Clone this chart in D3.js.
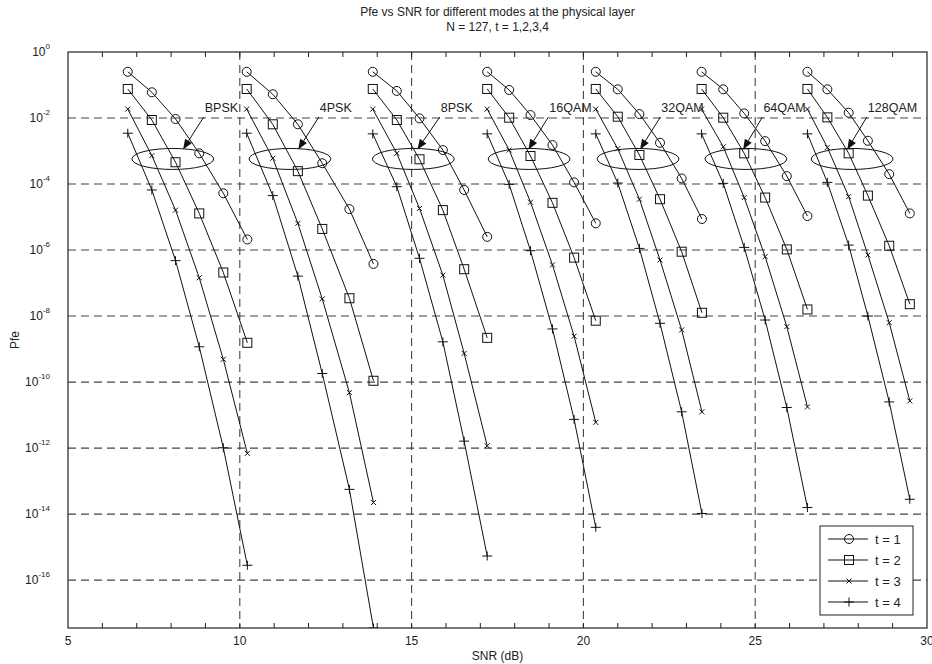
<!DOCTYPE html>
<html>
<head>
<meta charset="utf-8">
<script src="https://cdn.jsdelivr.net/npm/d3@7"></script>
<style>
  body { margin: 0; background: #fff; }
  svg text { font-family: "Liberation Sans", Arial, sans-serif; fill: #222; }
</style>
</head>
<body>
<svg id="chart" width="932" height="664"></svg>
<script>
// modes shown, left to right
var modes = ["BPSK", "4PSK", "8PSK", "16QAM", "32QAM", "64QAM", "128QAM"];

// SNR (dB) of the six points of each mode
var snrBPSK   = [6.74, 7.44, 8.13, 8.82, 9.52, 10.22];
var snr4PSK   = [10.2, 10.96, 11.69, 12.40, 13.19, 13.89];
var snr8PSK   = [13.87, 14.57, 15.23, 15.91, 16.53, 17.20];
var snr16QAM  = [17.20, 17.84, 18.46, 19.10, 19.73, 20.36];
var snr32QAM  = [20.36, 21.0, 21.63, 22.23, 22.86, 23.45];
var snr64QAM  = [23.44, 24.07, 24.68, 25.29, 25.92, 26.52];
var snr128QAM = [26.52, 27.10, 27.72, 28.28, 28.90, 29.5];

// log10(Pfe), one row per t = 1..4
var pfeBPSK = [
    [-0.60, -1.22, -2.03, -3.07, -4.28, -5.68],
    [-1.12, -2.06, -3.34, -4.89, -6.68, -8.81],
    [-1.73, -3.14, -4.79, -6.84, -9.31, -12.16],
    [-2.46, -4.18, -6.32, -8.93, -11.99, -15.55]];
var pfe4PSK = [
    [-0.60, -1.28, -2.19, -3.37, -4.76, -6.42],
    [-1.12, -2.19, -3.61, -5.36, -7.46, -9.96],
    [-1.73, -3.22, -5.19, -7.48, -10.32, -13.65],
    [-2.46, -4.35, -6.79, -9.74, -13.25, -17.45]];
var pfe8PSK = [
    [-0.60, -1.18, -2.01, -2.97, -4.18, -5.60],
    [-1.12, -2.06, -3.25, -4.79, -6.58, -8.66],
    [-1.73, -3.07, -4.74, -6.76, -9.13, -11.93],
    [-2.48, -4.08, -6.25, -8.78, -11.79, -15.27]];
var pfe16QAM = [
    [-0.60, -1.15, -1.91, -2.82, -3.95, -5.19],
    [-1.12, -1.99, -3.15, -4.57, -6.23, -8.14],
    [-1.73, -2.97, -4.55, -6.45, -8.61, -11.22],
    [-2.48, -4.01, -6.02, -8.39, -11.13, -14.40]];
var pfe32QAM = [
    [-0.60, -1.13, -1.88, -2.75, -3.83, -5.06],
    [-1.12, -1.96, -3.12, -4.46, -6.05, -7.90],
    [-1.73, -2.93, -4.46, -6.30, -8.42, -10.90],
    [-2.48, -3.97, -5.95, -8.22, -10.90, -13.98]];
var pfe64QAM = [
    [-0.60, -1.13, -1.86, -2.70, -3.76, -4.97],
    [-1.12, -1.99, -3.07, -4.41, -5.98, -7.80],
    [-1.73, -2.87, -4.41, -6.20, -8.32, -10.75],
    [-2.48, -3.98, -5.92, -8.12, -10.77, -13.80]];
var pfe128QAM = [
    [-0.60, -1.13, -1.84, -2.69, -3.70, -4.89],
    [-1.12, -1.98, -3.07, -4.35, -5.87, -7.64],
    [-1.73, -2.89, -4.38, -6.15, -8.20, -10.57],
    [-2.48, -3.95, -5.85, -8.00, -10.60, -13.55]];

var legendLabels = ["t = 1", "t = 2", "t = 3", "t = 4"];

// annotations (dB): ellipse centre, arrow tip, arrow tail / label start
var ellipseX = [8.05, 11.46, 15.05, 18.42, 21.59, 24.73, 27.82];
var arrowTipX = [8.35, 11.70, 15.17, 18.40, 21.65, 24.65, 27.68];
var labelX = [8.95, 12.30, 15.82, 18.98, 22.24, 25.21, 28.25];
var ellipseLog = -3.24, arrowTipLog = -2.95, labelLog = -1.97;

var xTicks = [5, 10, 15, 20, 25, 30];
var yExps = [0, -2, -4, -6, -8, -10, -12, -14, -16];

var snr = [snrBPSK, snr4PSK, snr8PSK, snr16QAM, snr32QAM, snr64QAM, snr128QAM];
var pfe = [pfeBPSK, pfe4PSK, pfe8PSK, pfe16QAM, pfe32QAM, pfe64QAM, pfe128QAM];

var svg = d3.select("#chart"),
    margin = {top: 52, right: 5, bottom: 36, left: 68},
    width = 932 - margin.left - margin.right,
    height = 664 - margin.top - margin.bottom;

var x = d3.scaleLinear().domain([5, 30]).range([0, width]);
var y = d3.scaleLog().domain([Math.pow(10, -17.45), 1]).range([height, 0]);
var ly = function(e) { return y(Math.pow(10, e)); };

var g = svg.append("g").attr("transform", "translate(" + margin.left + "," + margin.top + ")");

svg.append("defs").append("clipPath").attr("id", "clip")
    .append("rect").attr("width", width).attr("height", height);

// grid
g.append("g").selectAll("line").data([10, 15, 20, 25]).enter().append("line")
    .attr("x1", x).attr("x2", x).attr("y1", 0).attr("y2", height)
    .attr("stroke", "#444").attr("stroke-width", 1.1).attr("stroke-dasharray", "8,5");
g.append("g").selectAll("line").data(yExps.slice(1)).enter().append("line")
    .attr("x1", 0).attr("x2", width).attr("y1", ly).attr("y2", ly)
    .attr("stroke", "#444").attr("stroke-width", 1.1).attr("stroke-dasharray", "8,5");

// axes box with inward ticks
var ticksX = d3.range(6, 30);
g.append("g").selectAll("line").data(ticksX).enter().append("line")
    .attr("x1", x).attr("x2", x).attr("y1", height).attr("y2", height - 5)
    .attr("stroke", "#222");
g.append("g").selectAll("line").data(ticksX).enter().append("line")
    .attr("x1", x).attr("x2", x).attr("y1", 0).attr("y2", 5)
    .attr("stroke", "#222");
g.append("rect").attr("width", width).attr("height", height)
    .attr("fill", "none").attr("stroke", "#222").attr("stroke-width", 1.2);

g.append("g").selectAll("text").data(xTicks).enter().append("text")
    .attr("x", x).attr("y", height + 17)
    .attr("text-anchor", "middle").attr("font-size", 12)
    .text(function(d) { return d; });

var yl = g.append("g").selectAll("text").data(yExps).enter().append("text")
    .attr("x", -18).attr("y", function(d) { return ly(d) + 4; })
    .attr("text-anchor", "end").attr("font-size", 12);
yl.append("tspan").text("10");
yl.append("tspan").attr("dy", -7).attr("font-size", 8).text(function(d) { return d; });

// titles
svg.append("text").attr("x", margin.left + width / 2).attr("y", 16)
    .attr("text-anchor", "middle").attr("font-size", 12)
    .text("Pfe vs SNR for different modes at the physical layer");
svg.append("text").attr("x", margin.left + width / 2).attr("y", 31)
    .attr("text-anchor", "middle").attr("font-size", 12)
    .text("N = 127, t = 1,2,3,4");
svg.append("text").attr("x", margin.left + width / 2).attr("y", 660)
    .attr("text-anchor", "middle").attr("font-size", 12).text("SNR (dB)");
svg.append("text").attr("transform", "translate(19," + (margin.top + height / 2) + ") rotate(-90)")
    .attr("text-anchor", "middle").attr("font-size", 12).text("Pfe");

// markers
function marker(sel, t) {
    if (t == 0) {
        sel.append("circle").attr("r", 4.5);
    } else if (t == 1) {
        sel.append("rect").attr("x", -4.5).attr("y", -4.5).attr("width", 9).attr("height", 9);
    } else if (t == 2) {
        sel.append("path").attr("d", "M-2.5,-2.5L2.5,2.5M-2.5,2.5L2.5,-2.5");
    } else {
        sel.append("path").attr("d", "M-5,0L5,0M0,-4.5L0,4.5");
    }
    sel.attr("fill", "none").attr("stroke", "#111").attr("stroke-width", 1);
}

var line = d3.line()
    .x(function(d) { return x(d[0]); })
    .y(function(d) { return ly(d[1]); });

var plot = g.append("g").attr("clip-path", "url(#clip)");
modes.forEach(function(m, i) {
    pfe[i].forEach(function(vals, t) {
        var pts = vals.map(function(v, k) { return [snr[i][k], v]; });
        plot.append("path").datum(pts).attr("d", line)
            .attr("fill", "none").attr("stroke", "#111").attr("stroke-width", 1);
        plot.selectAll(null).data(pts).enter().append("g")
            .attr("transform", function(d) { return "translate(" + x(d[0]) + "," + ly(d[1]) + ")"; })
            .each(function() { marker(d3.select(this), t); });
    });
});

// annotations
var ann = g.append("g");
modes.forEach(function(m, i) {
    var rx = x(ellipseX[i] + 1.19) - x(ellipseX[i]);
    ann.append("ellipse").attr("cx", x(ellipseX[i])).attr("cy", ly(ellipseLog))
        .attr("rx", rx).attr("ry", 10.5)
        .attr("fill", "none").attr("stroke", "#111").attr("stroke-width", 1);
    var x0 = x(labelX[i]), y0 = ly(labelLog), x1 = x(arrowTipX[i]), y1 = ly(arrowTipLog);
    var a = Math.atan2(y1 - y0, x1 - x0), hl = 10, hw = 4;
    var bx = x1 - hl * Math.cos(a), by = y1 - hl * Math.sin(a);
    ann.append("line").attr("x1", x0).attr("y1", y0).attr("x2", bx).attr("y2", by)
        .attr("stroke", "#111").attr("stroke-width", 1);
    ann.append("path")
        .attr("d", "M" + x1 + "," + y1 +
            "L" + (bx + hw * Math.sin(a)) + "," + (by - hw * Math.cos(a)) +
            "L" + (bx - hw * Math.sin(a)) + "," + (by + hw * Math.cos(a)) + "Z")
        .attr("fill", "#111");
    ann.append("text").attr("x", x0 + 1).attr("y", y0 - 5)
        .attr("font-size", 12.5).text(m);
});

// legend
var lg = g.append("g").attr("transform", "translate(" + (820 - margin.left) + "," + (526 - margin.top) + ")");
lg.append("rect").attr("width", 93).attr("height", 89)
    .attr("fill", "#fff").attr("stroke", "#222").attr("stroke-width", 1);
legendLabels.forEach(function(l, t) {
    var row = lg.append("g").attr("transform", "translate(0," + (13 + t * 21) + ")");
    row.append("line").attr("x1", 8).attr("x2", 48).attr("stroke", "#111");
    var mk = row.append("g").attr("transform", "translate(29,0)");
    marker(mk, t);
    row.append("text").attr("x", 55).attr("y", 5).attr("font-size", 13).text(l);
});
</script>
</body>
</html>
